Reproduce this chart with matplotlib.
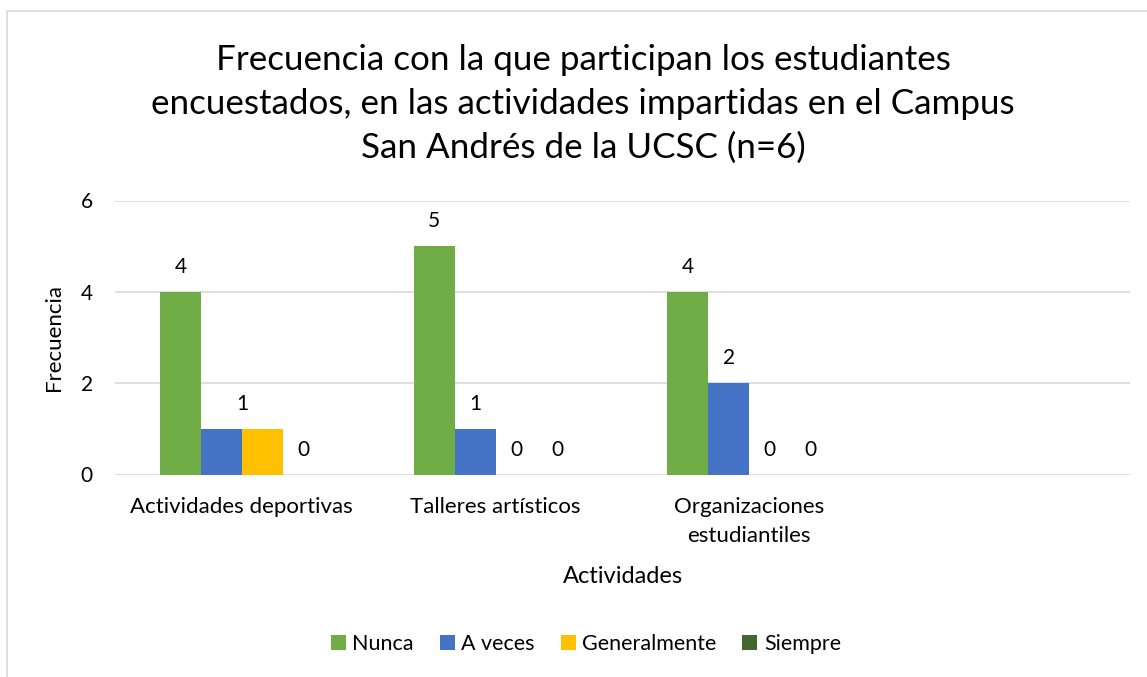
import matplotlib
matplotlib.use("Agg")
import matplotlib.pyplot as plt
import numpy as np
from matplotlib.patches import Rectangle

categories = ["Actividades deportivas", "Talleres artísticos", "Organizaciones\nestudiantiles", ""]
series_names = ["Nunca", "A veces", "Generalmente", "Siempre"]
nunca = [4, 5, 4, None]
a_veces = [1, 1, 2, None]
generalmente = [1, 0, 0, None]
siempre = [0, 0, 0, None]
yticks = [0, 2, 4, 6]

title = ("Frecuencia con la que participan los estudiantes\n"
         "encuestados, en las actividades impartidas en el Campus\n"
         "San Andrés de la UCSC (n=6)")
ylabel = "Frecuencia"
xlabel = "Actividades"

colors = ["#70AD47", "#4472C4", "#FFC000", "#43682B"]
FONT = "Lato"
plt.rcParams["font.family"] = [FONT, "DejaVu Sans"]

W, H = 1147, 677
fig = plt.figure(figsize=(W / 100, H / 100), dpi=100)
fig.patch.set_facecolor("white")

# outer chart border
fig.add_artist(Rectangle((7 / W, -0.1), 1.2, (H - 11) / H + 0.1, transform=fig.transFigure,
                         fill=False, edgecolor="#D9D9D9", linewidth=1.2))

ax_l, ax_r, ax_b, ax_t = 115, 1130, 474.5, 200.5
ax = fig.add_axes([ax_l / W, 1 - ax_b / H, (ax_r - ax_l) / W, (ax_b - ax_t) / H])

all_series = [nunca, a_veces, generalmente, siempre]
n = len(all_series)
x = np.arange(len(categories))
bw = 0.1615
for i, (name, vals, c) in enumerate(zip(series_names, all_series, colors)):
    v = [np.nan if val is None else val for val in vals]
    pos = x + (i - (n - 1) / 2) * bw
    ax.bar(pos, v, width=bw, color=c, label=name, zorder=3)
    for j, val in enumerate(vals):
        if val is None:
            continue
        px = pos[j]
        # in the first group the single "1" label sits between A veces and Generalmente
        if j == 0 and i == 2:
            continue
        if j == 0 and i == 1:
            px = pos[j] + bw / 2
        ax.annotate(str(val), (px, val), xytext=(0, 18), textcoords="offset points",
                    ha="center", va="center", fontsize=15, color="#000000")

ax.set_xlim(-0.5, len(categories) - 0.5)
ax.set_ylim(0, 6)
ax.set_yticks(yticks)
ax.set_yticklabels([str(t) for t in yticks], fontsize=15)
ax.set_xticks(x)
ax.set_xticklabels(categories, fontsize=16, linespacing=1.6)
ax.tick_params(length=0)
ax.tick_params(axis="y", pad=16)
ax.tick_params(axis="x", pad=16)
ax.grid(axis="y", color="#D9D9D9", linewidth=1.2, zorder=0)
for s in ax.spines.values():
    s.set_visible(False)

ax.set_ylabel(ylabel, fontsize=16, labelpad=12)
ax.set_xlabel(xlabel, fontsize=17, labelpad=14)

fig.text(583 / W, 1 - 104 / H, title, ha="center", va="center", fontsize=25.2,
         linespacing=1.46, color="#000000")

ax.legend(loc="center", bbox_to_anchor=(586 / W, 1 - 644 / H), bbox_transform=fig.transFigure,
          ncol=4, frameon=False, fontsize=15.5, handlelength=0.7, handleheight=0.7,
          handletextpad=0.3, columnspacing=1.2)

fig.savefig("out.png", dpi=100, facecolor="white")
